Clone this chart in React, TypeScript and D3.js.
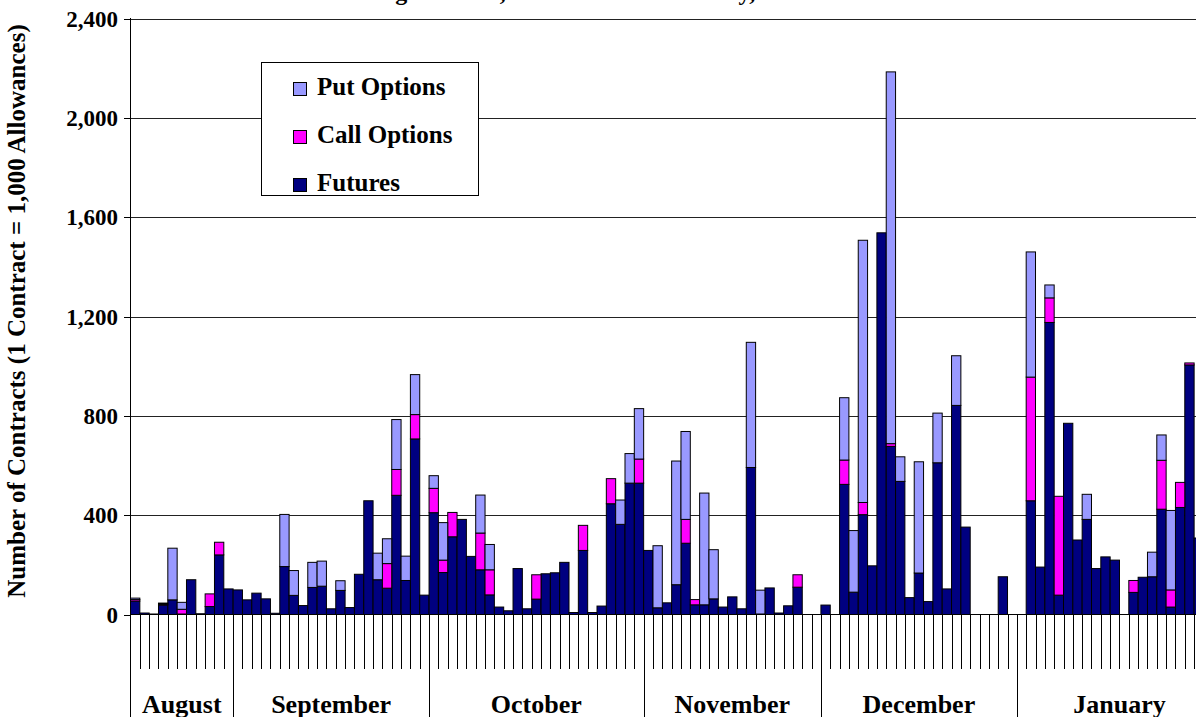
import React from "react";
import * as d3 from "d3";

// ---- data (daily contracts) ----
const monthNames = ["August", "September", "October", "November", "December", "January"];
const monthDays = [11, 21, 23, 19, 21, 22];

const futures = [
  54, 6, 2, 38, 59, 2, 140, 3, 32, 240, 103,
  99, 59, 86, 63, 5, 193, 77, 36, 109, 114, 23, 97, 28, 162, 458, 140, 106, 480, 137, 707, 78,
  410, 169, 313, 383, 234, 180, 79, 30, 15, 185, 23, 62, 164, 168, 210, 8, 258, 8, 34, 446, 363, 529, 529,
  258, 27, 47, 120, 287, 39, 39, 63, 30, 71, 23, 592, 2, 107, 6, 35, 110, 0, 0,
  38, 0, 524, 90, 402, 196, 1537, 677, 536, 68, 167, 52, 611, 103, 842, 352, 0, 0, 0, 152, 0,
  0, 458, 191, 1176, 78, 770, 300, 383, 185, 232, 219, 0, 89, 150, 152, 424, 30, 431, 1005, 308,
];
const callOptions = [
  6, 0, 0, 4, 0, 19, 0, 0, 51, 51, 0,
  0, 0, 0, 0, 0, 0, 0, 0, 0, 0, 0, 0, 0, 0, 0, 0, 99, 104, 0, 98, 0,
  98, 50, 98, 0, 0, 148, 101, 0, 0, 0, 0, 98, 0, 0, 0, 0, 101, 0, 0, 101, 0, 0, 97,
  0, 0, 0, 0, 96, 21, 0, 0, 0, 0, 0, 0, 0, 0, 0, 0, 50, 0, 0,
  0, 0, 98, 0, 49, 0, 0, 11, 0, 0, 0, 0, 0, 0, 0, 0, 0, 0, 0, 0, 0,
  0, 498, 0, 99, 398, 0, 0, 0, 0, 0, 0, 0, 48, 0, 0, 197, 69, 101, 8, 0,
];
const putOptions = [
  6, 0, 0, 4, 208, 28, 0, 0, 0, 0, 0,
  0, 0, 0, 0, 0, 210, 100, 0, 101, 101, 0, 39, 0, 0, 0, 107, 100, 201, 98, 161, 0,
  51, 151, 0, 0, 0, 153, 102, 0, 0, 0, 0, 0, 0, 0, 0, 0, 0, 0, 0, 0, 98, 119, 203,
  0, 250, 0, 498, 354, 0, 450, 198, 0, 0, 0, 504, 96, 0, 0, 0, 0, 0, 0,
  0, 0, 251, 248, 1056, 0, 0, 1497, 99, 0, 448, 0, 200, 0, 200, 0, 0, 0, 0, 0, 0,
  0, 504, 0, 52, 0, 0, 0, 101, 0, 0, 0, 0, 0, 0, 99, 102, 320, 0, 0, 0,
];
const yTicks = [0, 400, 800, 1200, 1600, 2000, 2400];

const seriesKeys = ["futures", "call", "put"];
const seriesColors: Record<string, string> = { futures: "#000080", call: "#FF00FF", put: "#9999FF" };
const legendItems = [
  { key: "put", label: "Put Options" },
  { key: "call", label: "Call Options" },
  { key: "futures", label: "Futures" },
];

const W = 1196;
const H = 717;
const FONT = "'Liberation Serif', 'Times New Roman', serif";

export default function App() {
  const nDays = d3.sum(monthDays);
  const days = d3.range(nDays);
  const rows = days.map((i) => ({
    futures: futures[i] ?? 0,
    call: callOptions[i] ?? 0,
    put: putOptions[i] ?? 0,
  }));
  const stacked = d3.stack<any>().keys(seriesKeys)(rows);

  const left = 130.5;
  const pitch = 9.33;
  const x = d3.scaleBand<number>().domain(days).range([left, left + nDays * pitch]).padding(0);
  const y = d3.scaleLinear().domain([0, 2400]).range([614.5, 18.5]);
  const y0 = y(0);

  const monthStart: number[] = [];
  let acc = 0;
  monthDays.forEach((d) => {
    monthStart.push(acc);
    acc += d;
  });
  const boundarySet = new Set(monthStart);

  return (
    <svg width={W} height={H} style={{ position: "absolute", left: 0, top: 0, display: "block", background: "#fff" }} fontFamily={FONT}>
      {/* title (cut off above the frame, as in the reference) */}
      <text x={184} y={0} fontSize={24} fontWeight="bold">
        CCFE RGGI Trading Volumes, Contracts Settled Daily, 2008 and 2009
      </text>

      {/* gridlines */}
      {yTicks.filter((t) => t > 0).map((t) => (
        <line key={t} x1={left} x2={W} y1={Math.round(y(t)) + 0.5} y2={Math.round(y(t)) + 0.5} stroke="#222" strokeWidth={1} />
      ))}

      {/* bars */}
      {stacked.map((s) => (
        <g key={s.key} fill={seriesColors[s.key]} stroke="#000" strokeWidth={1}>
          {s.map((d, i) => {
            const h = y(d[0]) - y(d[1]);
            if (h <= 0) return null;
            return <rect key={i} x={x(i)} y={y(d[1])} width={x.bandwidth()} height={h} />;
          })}
        </g>
      ))}

      {/* legend */}
      <rect x={261.5} y={62.5} width={217} height={133} fill="#fff" stroke="#000" strokeWidth={1} />
      {legendItems.map((it, i) => (
        <g key={it.key} transform={`translate(293.5, ${82.5 + i * 48})`}>
          <rect width={13} height={13} fill={seriesColors[it.key]} stroke="#000" strokeWidth={1} />
          <text x={23.5} y={12.5} fontSize={25} fontWeight="bold">{it.label}</text>
        </g>
      ))}

      {/* x baseline */}
      <line x1={left} x2={W} y1={y0} y2={y0} stroke="#000" strokeWidth={1} />

      {/* category ticks */}
      {d3.range(1, nDays + 1).map((i) => {
        const xx = Math.round(left + i * pitch) + 0.5;
        const isMonth = boundarySet.has(i);
        return <line key={i} x1={xx} x2={xx} y1={y0} y2={isMonth ? H : 669} stroke="#000" strokeWidth={1} />;
      })}

      {/* month labels */}
      {monthNames.map((m, k) => {
        const a = x(monthStart[k])!;
        const b = left + (monthStart[k] + monthDays[k]) * pitch;
        return (
          <text key={m} x={(a + b) / 2} y={712.5} textAnchor="middle" fontSize={26} fontWeight="bold">{m}</text>
        );
      })}

      {/* y axis */}
      <line x1={left} x2={left} y1={18} y2={H} stroke="#000" strokeWidth={1} />
      {yTicks.map((t) => (
        <g key={t}>
          <line x1={124} x2={left} y1={Math.round(y(t)) + 0.5} y2={Math.round(y(t)) + 0.5} stroke="#000" strokeWidth={1} />
          <text x={118} y={y(t)} dy="0.36em" textAnchor="end" fontSize={23} fontWeight="bold">{d3.format(",")(t)}</text>
        </g>
      ))}
      <text transform={`translate(25, 311) rotate(-90)`} textAnchor="middle" fontSize={25} fontWeight="bold">
        Number of Contracts (1 Contract = 1,000 Allowances)
      </text>
    </svg>
  );
}
